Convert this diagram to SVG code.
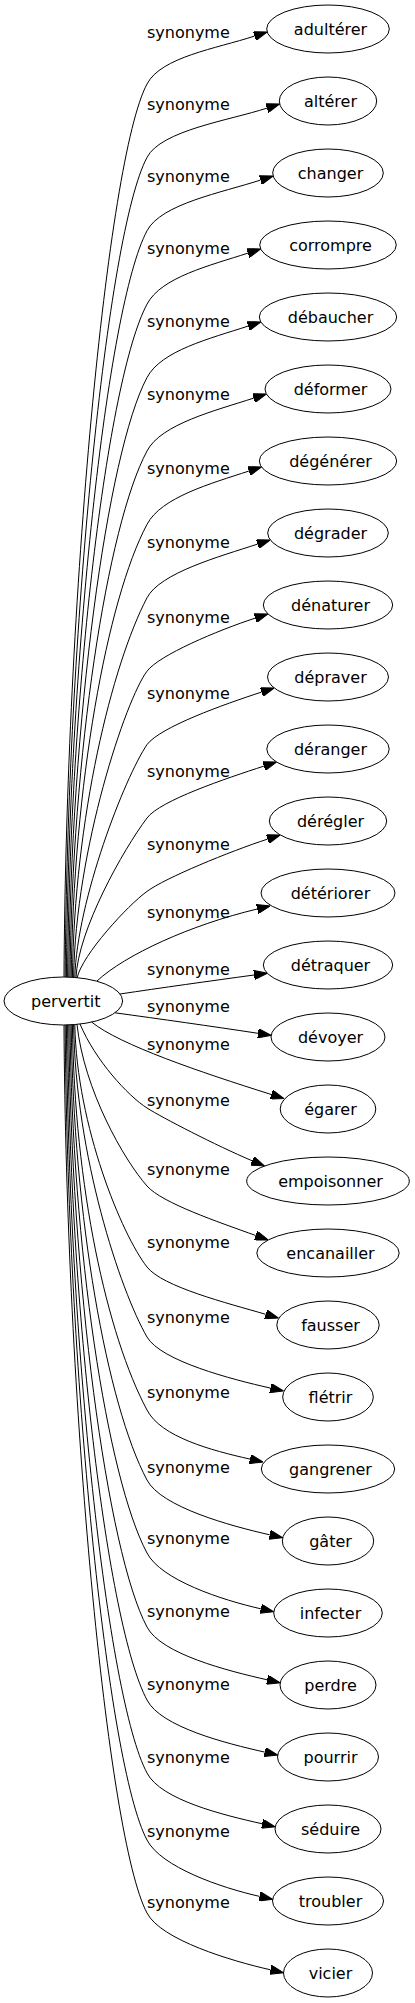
<svg xmlns="http://www.w3.org/2000/svg" width="415" height="2003" viewBox="0 0 415 2003">
<defs>
<style>
.n ellipse{fill:none;stroke:#000;stroke-width:1}
.n text{font-family:"DejaVu Sans",sans-serif;font-size:16px;fill:#000;text-anchor:middle}
#edges path{fill:none;stroke:#000;stroke-width:1;marker-end:url(#arr)}
#edges text{font-family:"DejaVu Sans",sans-serif;font-size:16px;fill:#000;text-anchor:start}
</style>
<marker id="arr" viewBox="0 0 13.33 9.33" refX="0" refY="4.665" markerWidth="13.33" markerHeight="9.33" markerUnits="userSpaceOnUse" orient="auto">
<path d="M0,0 L13.33,4.665 L0,9.33 Z" fill="#000" stroke="#000" stroke-width="1"/>
</marker>
</defs>
<rect width="415" height="2003" fill="#fff"/>
<g id="edges">
<path d="M64,977 C66,601.9 107,159 147,84 C161,57 216.5,48.5 254.5,36.1"/><text x="147" y="37.5">synonyme</text>
<path d="M65.2,977 C67.2,632.8 107,232.4 147,157.4 C161,130.4 229,120.5 267,108.1"/><text x="147" y="110">synonyme</text>
<path d="M66.4,977 C68.4,663.6 107,305.8 147,230.8 C161,203.8 222.4,192.5 260.4,180.1"/><text x="147" y="181.7">synonyme</text>
<path d="M67.6,977.1 C69.6,694.5 107,379.2 147,304.2 C161,277.2 210,265.5 248,253.1"/><text x="147" y="254.3">synonyme</text>
<path d="M68.8,977.1 C70.8,725.3 107,452.6 147,377.6 C161,350.6 210.1,338.5 248.1,326.1"/><text x="147" y="326.7">synonyme</text>
<path d="M70,977.2 C72,756.2 107,526 147,451 C161,424 215.7,410.5 253.7,398.1"/><text x="147" y="400">synonyme</text>
<path d="M71.2,977.2 C73.2,787 107,599.4 147,524.4 C161,497.4 210.8,483.5 248.8,471.1"/><text x="147" y="474">synonyme</text>
<path d="M72.4,977.3 C74.4,817.9 112,664.8 147,597.8 C160,572.9 219.6,556.5 257.6,544.1"/><text x="147" y="548.3">synonyme</text>
<path d="M73.6,977.4 C75.6,848.8 126,699 147,671.2 C159,655.2 217.3,630.5 255.3,618.1"/><text x="147" y="622.7">synonyme</text>
<path d="M74.8,977.5 C77,900 124.6,777.8 147,744.6 C160.2,727 223.5,704.5 261.5,692.1"/><text x="147" y="699.3">synonyme</text>
<path d="M76,977.6 C78,930 123,850 147,818 C160.2,800.4 225.9,778.5 263.9,766.1"/><text x="147" y="776.7">synonyme</text>
<path d="M77.2,977.7 C82,955 128,905 147,891.4 C165,878 229.6,851.5 267.6,839.1"/><text x="147" y="850">synonyme</text>
<path d="M97,981 C125,955 190,925 257.3,909"/><text x="147" y="918">synonyme</text>
<path d="M120,994 C160,988 210,981 254.1,975"/><text x="147" y="975">synonyme</text>
<path d="M115,1012.8 C160,1019 210,1026 258,1033.3"/><text x="147" y="1011.7">synonyme</text>
<path d="M91.7,1022.1 C120,1045 200,1072 271.3,1094.5"/><text x="147" y="1050">synonyme</text>
<path d="M80,1024 C95,1060 128,1096 147,1108 C162,1117.5 215.4,1145.2 252.2,1160.8"/><text x="147" y="1106">synonyme</text>
<path d="M77,1024.3 C84,1090 124,1160 147,1186 C162,1203 218.1,1221.9 255.7,1235.5"/><text x="147" y="1175">synonyme</text>
<path d="M74.8,1024.7 C76.8,1126.3 122,1235 147,1267 C162.5,1286.8 227.3,1303.1 265.7,1314.3"/><text x="147" y="1248">synonyme</text>
<path d="M73.6,1024.7 C75.6,1155.7 120,1290 147,1337 C161,1361 231.5,1379.3 270.5,1388.1"/><text x="147" y="1323">synonyme</text>
<path d="M72.4,1024.7 C74.4,1186.5 107,1335 147,1410 C161,1437 211,1450.3 250,1459.1"/><text x="147" y="1398">synonyme</text>
<path d="M71.2,1024.7 C73.2,1215.9 107,1405 147,1480 C161,1507 230.7,1526 269.7,1534.8"/><text x="147" y="1473">synonyme</text>
<path d="M70,1024.8 C72,1246.6 107,1478 147,1553 C161,1580 221.8,1600 260.8,1608.8"/><text x="147" y="1544">synonyme</text>
<path d="M68.8,1024.8 C70.8,1277.7 107,1552 147,1627 C161,1654 228.2,1671 267.2,1679.8"/><text x="147" y="1616.7">synonyme</text>
<path d="M67.6,1024.9 C69.6,1308.4 107,1625 147,1700 C161,1727 225.7,1743.3 264.7,1752.1"/><text x="147" y="1690">synonyme</text>
<path d="M66.4,1024.9 C68.4,1339.1 107,1698 147,1773 C161,1800 223.2,1815 262.2,1823.8"/><text x="147" y="1763.3">synonyme</text>
<path d="M65.2,1025 C67.2,1367.3 107,1765 147,1840 C161,1867 220.6,1887.6 259.6,1896.4"/><text x="147" y="1836.7">synonyme</text>
<path d="M64,1025 C66,1398 107,1838 147,1913 C161,1940 231.5,1961 270.5,1969.8"/><text x="147" y="1908.3">synonyme</text>
</g>
<g id="n_pervertit" class="n"><ellipse cx="63.3" cy="1001" rx="59.3" ry="24"/><text x="65.8" y="1006.7">pervertit</text></g>
<g id="n_adulterer" class="n"><ellipse cx="328" cy="29" rx="61.3" ry="24"/><text x="330.5" y="34.7">adultérer</text></g>
<g id="n_alterer" class="n"><ellipse cx="328" cy="101" rx="48.7" ry="24"/><text x="330.5" y="106.7">altérer</text></g>
<g id="n_changer" class="n"><ellipse cx="328" cy="173" rx="55.3" ry="24"/><text x="330.5" y="178.7">changer</text></g>
<g id="n_corrompre" class="n"><ellipse cx="328" cy="245" rx="68.3" ry="24"/><text x="330.5" y="250.7">corrompre</text></g>
<g id="n_debaucher" class="n"><ellipse cx="328" cy="317" rx="68.7" ry="24"/><text x="330.5" y="322.7">débaucher</text></g>
<g id="n_deformer" class="n"><ellipse cx="328" cy="389" rx="63" ry="24"/><text x="330.5" y="394.7">déformer</text></g>
<g id="n_degenerer" class="n"><ellipse cx="328" cy="461" rx="68.7" ry="24"/><text x="330.5" y="466.7">dégénérer</text></g>
<g id="n_degrader" class="n"><ellipse cx="328" cy="533" rx="60.3" ry="24"/><text x="330.5" y="538.7">dégrader</text></g>
<g id="n_denaturer" class="n"><ellipse cx="328" cy="605" rx="64.7" ry="24"/><text x="330.5" y="610.7">dénaturer</text></g>
<g id="n_depraver" class="n"><ellipse cx="328" cy="677" rx="60.5" ry="24"/><text x="330.5" y="682.7">dépraver</text></g>
<g id="n_deranger" class="n"><ellipse cx="328" cy="749" rx="61.2" ry="24"/><text x="330.5" y="754.7">déranger</text></g>
<g id="n_deregler" class="n"><ellipse cx="328" cy="821" rx="58.7" ry="24"/><text x="330.5" y="826.7">dérégler</text></g>
<g id="n_deteriorer" class="n"><ellipse cx="328" cy="893" rx="67" ry="24"/><text x="330.5" y="898.7">détériorer</text></g>
<g id="n_detraquer" class="n"><ellipse cx="328" cy="965" rx="64.7" ry="24"/><text x="330.5" y="970.7">détraquer</text></g>
<g id="n_devoyer" class="n"><ellipse cx="328" cy="1037" rx="57" ry="24"/><text x="330.5" y="1042.7">dévoyer</text></g>
<g id="n_egarer" class="n"><ellipse cx="328" cy="1109" rx="47.8" ry="24"/><text x="330.5" y="1114.7">égarer</text></g>
<g id="n_empoisonner" class="n"><ellipse cx="328" cy="1181" rx="81.3" ry="24"/><text x="330.5" y="1186.7">empoisonner</text></g>
<g id="n_encanailler" class="n"><ellipse cx="328" cy="1253" rx="71.2" ry="24"/><text x="330.5" y="1258.7">encanailler</text></g>
<g id="n_fausser" class="n"><ellipse cx="328" cy="1325" rx="51.2" ry="24"/><text x="330.5" y="1330.7">fausser</text></g>
<g id="n_fletrir" class="n"><ellipse cx="328" cy="1397" rx="45.3" ry="24"/><text x="330.5" y="1402.7">flétrir</text></g>
<g id="n_gangrener" class="n"><ellipse cx="328" cy="1469" rx="66.7" ry="24"/><text x="330.5" y="1474.7">gangrener</text></g>
<g id="n_gater" class="n"><ellipse cx="328" cy="1541" rx="45.7" ry="24"/><text x="330.5" y="1546.7">gâter</text></g>
<g id="n_infecter" class="n"><ellipse cx="328" cy="1613" rx="54.3" ry="24"/><text x="330.5" y="1618.7">infecter</text></g>
<g id="n_perdre" class="n"><ellipse cx="328" cy="1685" rx="48" ry="24"/><text x="330.5" y="1690.7">perdre</text></g>
<g id="n_pourrir" class="n"><ellipse cx="328" cy="1757" rx="50.5" ry="24"/><text x="330.5" y="1762.7">pourrir</text></g>
<g id="n_seduire" class="n"><ellipse cx="328" cy="1829" rx="53" ry="24"/><text x="330.5" y="1834.7">séduire</text></g>
<g id="n_troubler" class="n"><ellipse cx="328" cy="1901" rx="55.5" ry="24"/><text x="330.5" y="1906.7">troubler</text></g>
<g id="n_vicier" class="n"><ellipse cx="328" cy="1973" rx="44.5" ry="24"/><text x="330.5" y="1978.7">vicier</text></g>
</svg>
